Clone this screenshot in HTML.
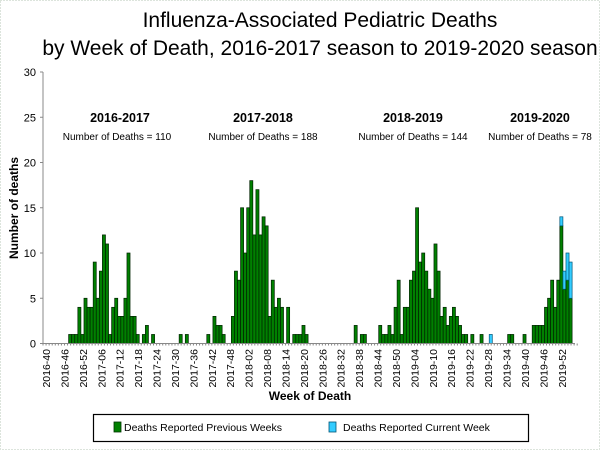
<!DOCTYPE html>
<html><head><style>
body{margin:0;background:#fff;}
svg{display:block;font-family:"Liberation Sans",Arial,sans-serif;}
</style></head><body>
<svg id="s" width="600" height="450" xmlns="http://www.w3.org/2000/svg">
<rect x="0.5" y="0.5" width="599" height="449" fill="#fff" stroke="#b8c8b8" stroke-dasharray="1,2"/>
<text x="320" y="27" font-size="21" text-anchor="middle" fill="#000">Influenza-Associated Pediatric Deaths</text>
<text x="320" y="55" font-size="21" text-anchor="middle" fill="#000">by Week of Death, 2016-2017 season to 2019-2020 season</text>
<text x="120" y="122" font-size="12.5" font-weight="bold" text-anchor="middle">2016-2017</text>
<text x="117" y="140" font-size="10" text-anchor="middle">Number of Deaths = 110</text>
<text x="263" y="122" font-size="12.5" font-weight="bold" text-anchor="middle">2017-2018</text>
<text x="263" y="140" font-size="10" text-anchor="middle">Number of Deaths = 188</text>
<text x="413" y="122" font-size="12.5" font-weight="bold" text-anchor="middle">2018-2019</text>
<text x="413" y="140" font-size="10" text-anchor="middle">Number of Deaths = 144</text>
<text x="540" y="122" font-size="12.5" font-weight="bold" text-anchor="middle">2019-2020</text>
<text x="540" y="140" font-size="10" text-anchor="middle">Number of Deaths = 78</text>
<text transform="translate(18,208) rotate(-90)" font-size="12" font-weight="bold" text-anchor="middle">Number of deaths</text>
<text x="310" y="400" font-size="12" font-weight="bold" text-anchor="middle">Week of Death</text>
<g id="bars"></g>
<g id="axis" stroke="#888" stroke-width="1"></g>
<rect x="93.5" y="414.5" width="435" height="27" fill="#fff" stroke="#000" stroke-width="1.2"/>
<rect x="114" y="422" width="7" height="10" fill="#008000" stroke="#003300" stroke-width="0.8"/>
<text x="124" y="431" font-size="10.5">Deaths Reported Previous Weeks</text>
<rect x="329" y="422" width="7" height="10" fill="#33ccff" stroke="#005577" stroke-width="0.8"/>
<text x="343" y="431" font-size="10.5">Deaths Reported Current Week</text>
</svg>
<script>
var NS="http://www.w3.org/2000/svg",s=document.getElementById('s');
var bg=document.getElementById('bars'),ax=document.getElementById('axis');
function el(t,a,p){var e=document.createElementNS(NS,t);for(var k in a)e.setAttribute(k,a[k]);(p||s).appendChild(e);return e;}
var x0=41,pw=3.07,yb=343.5,u=9.05;
var d={};
var a=[1,1,1,4,1,5,4,4,9,5,8,12,11,1,4,5,3,3,5,10,3,3,1,0,1,2,0,1];
a.forEach(function(v,i){if(v)d[9+i]=[v,0];});
d[45]=[1,0];d[47]=[1,0];d[54]=[1,0];d[56]=[3,0];d[57]=[2,0];d[58]=[2,0];d[59]=[1,0];
[3,8,7,15,10,15,18,12,17,12,14,13,3,7,4,5,4].forEach(function(v,i){d[62+i]=[v,0];});
d[80]=[4,0];d[82]=[1,0];d[83]=[1,0];d[84]=[1,0];d[85]=[2,0];d[86]=[1,0];
d[102]=[2,0];d[104]=[1,0];d[105]=[1,0];
[2,1,1,2,1,4,7,1,4,4,7,8,15,9,10,8,6,5,11,8,3,4,2,3,4,3,2,1,1].forEach(function(v,i){d[110+i]=[v,0];});
d[140]=[1,0];d[143]=[1,0];d[146]=[0,1];d[152]=[1,0];d[153]=[1,0];d[157]=[1,0];
[[2,0],[2,0],[2,0],[2,0],[4,0],[5,0],[7,0],[4,0],[7,0],[13,1],[6,2],[7,3],[5,4]].forEach(function(v,i){d[160+i]=v;});
for(var k in d){var x=x0+k*pw,g=d[k][0],c=d[k][1];
 if(g)el('rect',{x:x,y:yb-g*u,width:pw,height:g*u,fill:'#008000',stroke:'#002200','stroke-width':0.7},bg);
 if(c)el('rect',{x:x,y:yb-(g+c)*u,width:pw,height:c*u,fill:'#33ccff',stroke:'#005577','stroke-width':0.7},bg);}
el('line',{x1:43,y1:72,x2:43,y2:yb},ax);
el('line',{x1:43,y1:yb,x2:575,y2:yb},ax);
for(var v=0;v<=30;v+=5){var y=yb-v*u;el('line',{x1:40,y1:y,x2:43,y2:y},ax);
 var t=el('text',{x:36,y:y+4,'font-size':11,'text-anchor':'end',fill:'#000'});t.textContent=v;}
for(var i=0;i<175;i++){el('line',{x1:43+i*pw,y1:yb,x2:43+i*pw,y2:yb+2},ax);}
var labs=['2016-40','2016-46','2016-52','2017-06','2017-12','2017-18','2017-24','2017-30','2017-36','2017-42','2017-48','2018-02','2018-08','2018-14','2018-20','2018-26','2018-32','2018-38','2018-44','2018-50','2019-04','2019-10','2019-16','2019-22','2019-28','2019-34','2019-40','2019-46','2019-52'];
labs.forEach(function(l,i){var x=46+i*18.42+4;var t=el('text',{transform:'translate('+x+',349) rotate(-90)','font-size':10.5,'text-anchor':'end',fill:'#000'});t.textContent=l;});
</script>
</body></html>
